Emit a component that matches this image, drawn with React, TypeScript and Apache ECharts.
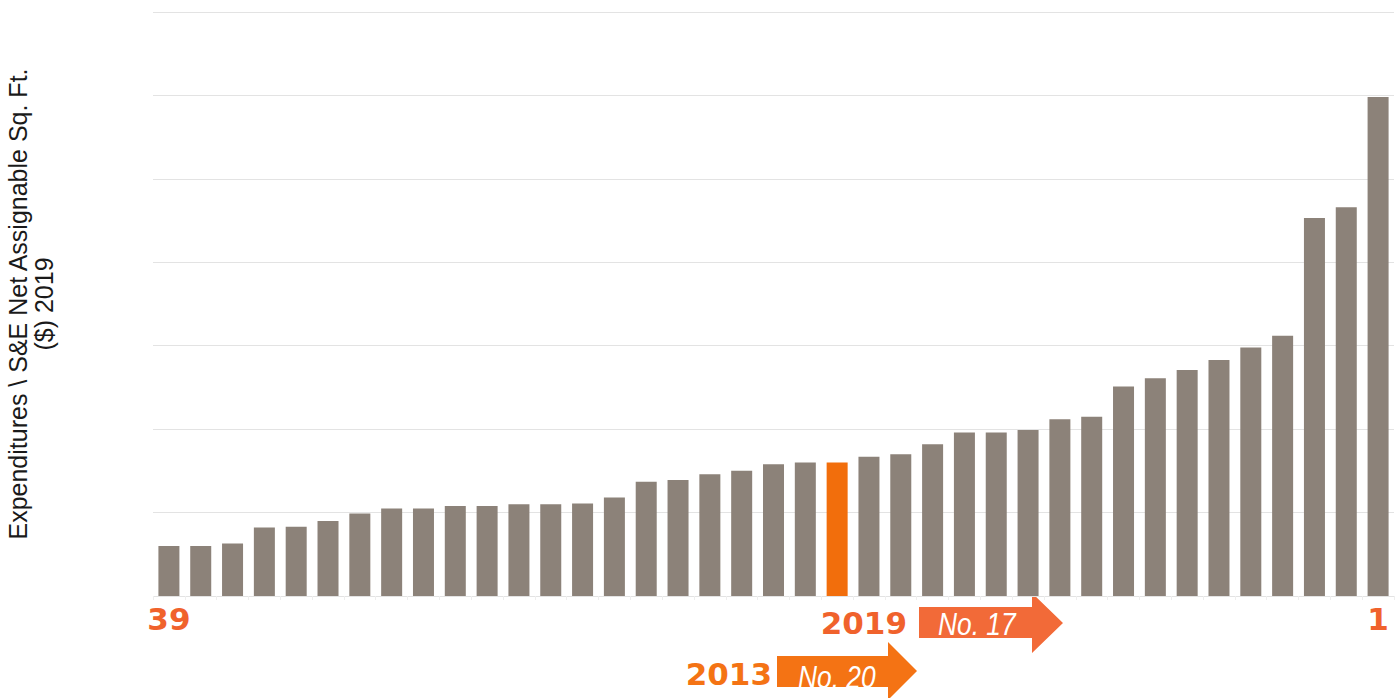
import React, { useEffect, useRef } from "react";
import * as echarts from "echarts";

// Ranks from 39 (lowest) to 1 (highest)
const ranks: string[] = Array.from({ length: 39 }, (_, i) => String(39 - i));
// Expenditures per S&E net assignable sq. ft. (in gridline units x100)
const values: number[] = [
  60, 60, 63, 82, 83, 90, 99, 105, 105, 108, 108, 110, 110, 111, 118, 137, 139, 146, 150, 158,
  160, 160, 167, 170, 182, 196, 196, 199, 212, 215, 251, 261, 271, 283, 298, 312, 453, 466, 598,
];
const highlightIndex = 21; // the 2019 institution
const yTitle = "Expenditures \\ S&E Net Assignable Sq. Ft.\n($) 2019";

const GRAY = "#8C8279";
const ORANGE_BAR = "#F26E0C";
const ORANGE_TEXT = "#F0622C";
const ARROW_2019 = "#F26A38";
const ARROW_2013 = "#F47314";

export default function App() {
  const ref = useRef<HTMLDivElement>(null);
  useEffect(() => {
    if (!ref.current) return;
    const chart = echarts.init(ref.current, undefined, { renderer: "svg" });
    chart.setOption({
      animation: false,
      backgroundColor: "#ffffff",
      grid: { left: 153, right: 5, top: 12, bottom: 102, containLabel: false, outerBoundsMode: "none" },
      xAxis: {
        type: "category",
        data: ranks,
        axisLine: { show: false },
        axisTick: { show: true, length: 4, lineStyle: { color: "#EEEEEE" } },
        axisLabel: {
          interval: 0,
          margin: 7,
          formatter: (v: string, i: number) => (i === 0 || i === ranks.length - 1 ? v : ""),
          color: ORANGE_TEXT,
          fontFamily: "DejaVu Sans",
          fontWeight: "bold",
          fontSize: 31,
        },
      },
      yAxis: {
        type: "value",
        min: 0,
        max: 700,
        interval: 100,
        axisLabel: { show: false },
        axisLine: { show: false },
        axisTick: { show: false },
        splitLine: { lineStyle: { color: "#E3E3E3", width: 1 } },
        name: yTitle,
        nameLocation: "middle",
        nameRotate: 90,
        nameGap: 96,
        nameTextStyle: {
          fontFamily: "Liberation Sans",
          fontSize: 25,
          color: "#1a1a1a",
          lineHeight: 26,
          align: "center",
        },
      },
      series: [
        {
          type: "bar",
          barCategoryGap: "34%",
          data: values.map((v, i) => ({
            value: v,
            itemStyle: { color: i === highlightIndex ? ORANGE_BAR : GRAY },
          })),
        },
      ],
      graphic: [
        {
          type: "polygon",
          shape: {
            points: [
              [919, 607], [1032, 607], [1032, 593], [1063, 623], [1032, 653], [1032, 638], [919, 638],
            ],
          },
          style: { fill: ARROW_2019 },
        },
        {
          type: "text",
          x: 938,
          y: 624,
          scaleX: 0.85,
          style: {
            text: "No. 17",
            fill: "#ffffff",
            fontFamily: "Liberation Sans",
            fontStyle: "italic",
            fontSize: 31,
            verticalAlign: "middle",
            align: "left",
          },
        },
        {
          type: "text",
          x: 907,
          y: 623,
          style: {
            text: "2019",
            fill: ORANGE_TEXT,
            fontFamily: "DejaVu Sans",
            fontWeight: "bold",
            fontSize: 31,
            verticalAlign: "middle",
            align: "right",
          },
        },
        {
          type: "polygon",
          shape: {
            points: [
              [777, 656], [888, 656], [888, 642], [917, 671], [888, 700], [888, 687], [777, 687],
            ],
          },
          style: { fill: ARROW_2013 },
        },
        {
          type: "text",
          x: 798,
          y: 677,
          scaleX: 0.85,
          style: {
            text: "No. 20",
            fill: "#ffffff",
            fontFamily: "Liberation Sans",
            fontStyle: "italic",
            fontSize: 31,
            verticalAlign: "middle",
            align: "left",
          },
        },
        {
          type: "text",
          x: 772,
          y: 674,
          style: {
            text: "2013",
            fill: ARROW_2013,
            fontFamily: "DejaVu Sans",
            fontWeight: "bold",
            fontSize: 31,
            verticalAlign: "middle",
            align: "right",
          },
        },
      ],
    });
    return () => chart.dispose();
  }, []);
  return <div ref={ref} style={{ width: 1399, height: 698, position: "absolute", left: 0, top: 0 }} />;
}
